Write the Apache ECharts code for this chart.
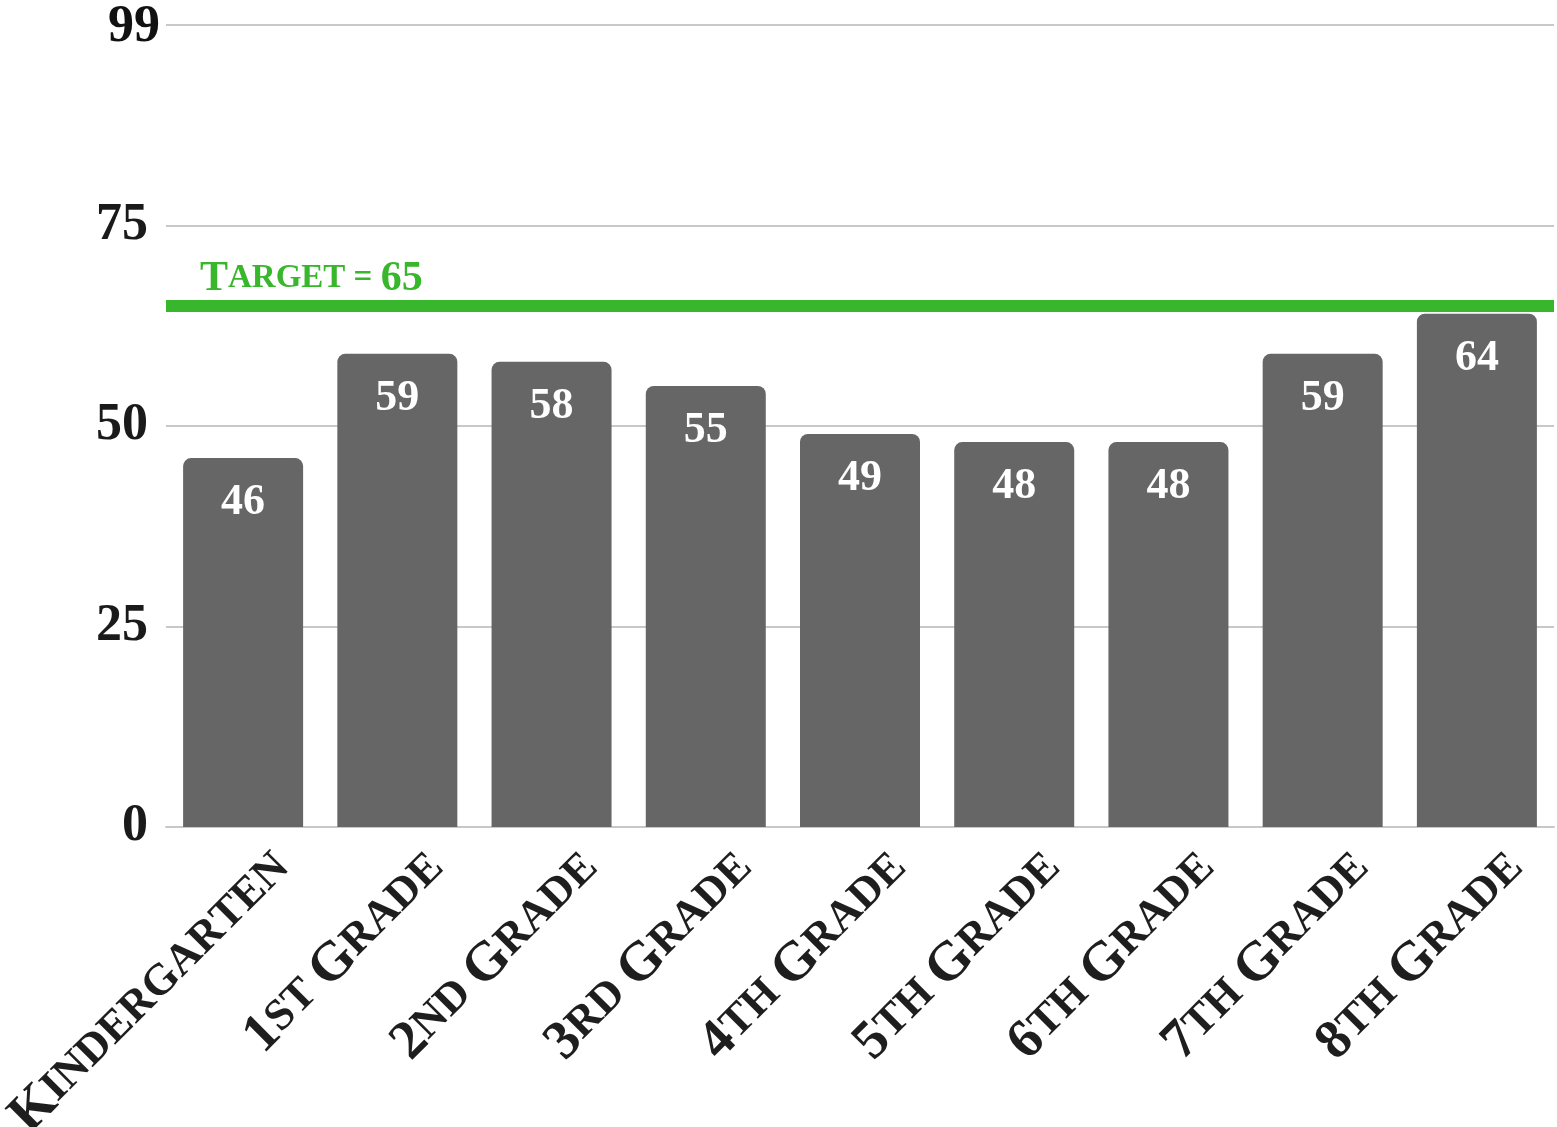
<!DOCTYPE html>
<html>
<head>
<meta charset="utf-8">
<script src="https://cdn.jsdelivr.net/npm/echarts@6/dist/echarts.min.js"></script>
<style>
  html, body { margin: 0; padding: 0; background: #fff; }
  #chart { width: 1557px; height: 1127px; }
</style>
</head>
<body>
<div id="chart"></div>
<script>
// grades and scores
const grades = ['Kindergarten', '1st Grade', '2nd Grade', '3rd Grade', '4th Grade',
  '5th Grade', '6th Grade', '7th Grade', '8th Grade'];
const scores = [46, 59, 58, 55, 49, 48, 48, 59, 64];
const target = 65;
// labels shown at the y ticks (the top line reads 99)
const yTickLabels = ['0', '25', '50', '75', '99'];

const serif = '"Liberation Serif", "DejaVu Serif", serif';

// fake small caps: capitals and digits stay big, lower case becomes small capitals
function smallCaps(str) {
  let out = '';
  for (const ch of str) {
    if (ch === ' ') { out += '{s| }'; continue; }
    if ((ch === ch.toUpperCase() && ch !== ch.toLowerCase()) || /[0-9]/.test(ch)) {
      out += '{b|' + ch + '}';
    } else {
      out += '{s|' + ch.toUpperCase() + '}';
    }
  }
  return out;
}

let chart = echarts.init(document.getElementById('chart'));
chart.setOption({
  backgroundColor: '#ffffff',
  animation: false,
  grid: {
    left: 166,
    right: 3,
    top: 25,
    bottom: 300,
    outerBoundsMode: 'none'
  },
  xAxis: {
    type: 'category',
    data: grades,
    axisTick: { show: false },
    axisLine: { lineStyle: { color: '#c8c8c8', width: 2 } },
    axisLabel: {
      interval: 0,
      rotate: 45,
      margin: 14,
      padding: [84, -14, 0, 0],
      formatter: function (v) { return smallCaps(v); },
      rich: {
        b: { fontFamily: serif, fontWeight: 'bold', fontSize: 55, color: '#1e1e1e' },
        s: { fontFamily: serif, fontWeight: 'bold', fontSize: 44, color: '#1e1e1e' }
      }
    }
  },
  yAxis: {
    type: 'value',
    min: 0,
    max: 100,
    interval: 25,
    axisLine: { show: false },
    axisTick: { show: false },
    axisLabel: {
      margin: 18,
      fontFamily: serif,
      fontWeight: 'bold',
      fontSize: 52,
      color: '#1a1a1a',
      formatter: function (v, i) {
        if (i === yTickLabels.length - 1) return '{top|' + yTickLabels[i] + '}';
        return yTickLabels[i];
      },
      rich: {
        top: {
          fontFamily: serif, fontWeight: 'bold', fontSize: 52, color: '#111111',
          padding: [6, -12, 0, 0]
        }
      }
    },
    splitLine: { lineStyle: { color: '#c8c8c8', width: 2 } }
  },
  series: [
    {
      name: 'Score',
      type: 'bar',
      data: scores,
      barWidth: 120,
      itemStyle: {
        color: '#666666',
        borderRadius: [8, 8, 0, 0]
      },
      label: {
        show: true,
        position: 'insideTop',
        distance: 23,
        fontFamily: serif,
        fontWeight: 'bold',
        fontSize: 44,
        color: '#ffffff'
      },
      markLine: {
        silent: true,
        symbol: 'none',
        lineStyle: { color: '#38b62c', width: 12, type: 'solid' },
        data: [{ yAxis: target }],
        label: {
          position: 'insideStartTop',
          distance: [34, 6],
          formatter: '{b|T}{s|ARGET = }{b|' + target + '}',
          rich: {
            b: { fontFamily: serif, fontWeight: 'bold', fontSize: 42, color: '#38b62c' },
            s: { fontFamily: serif, fontWeight: 'bold', fontSize: 33, color: '#38b62c' }
          }
        }
      }
    }
  ]
});
</script>
</body>
</html>
